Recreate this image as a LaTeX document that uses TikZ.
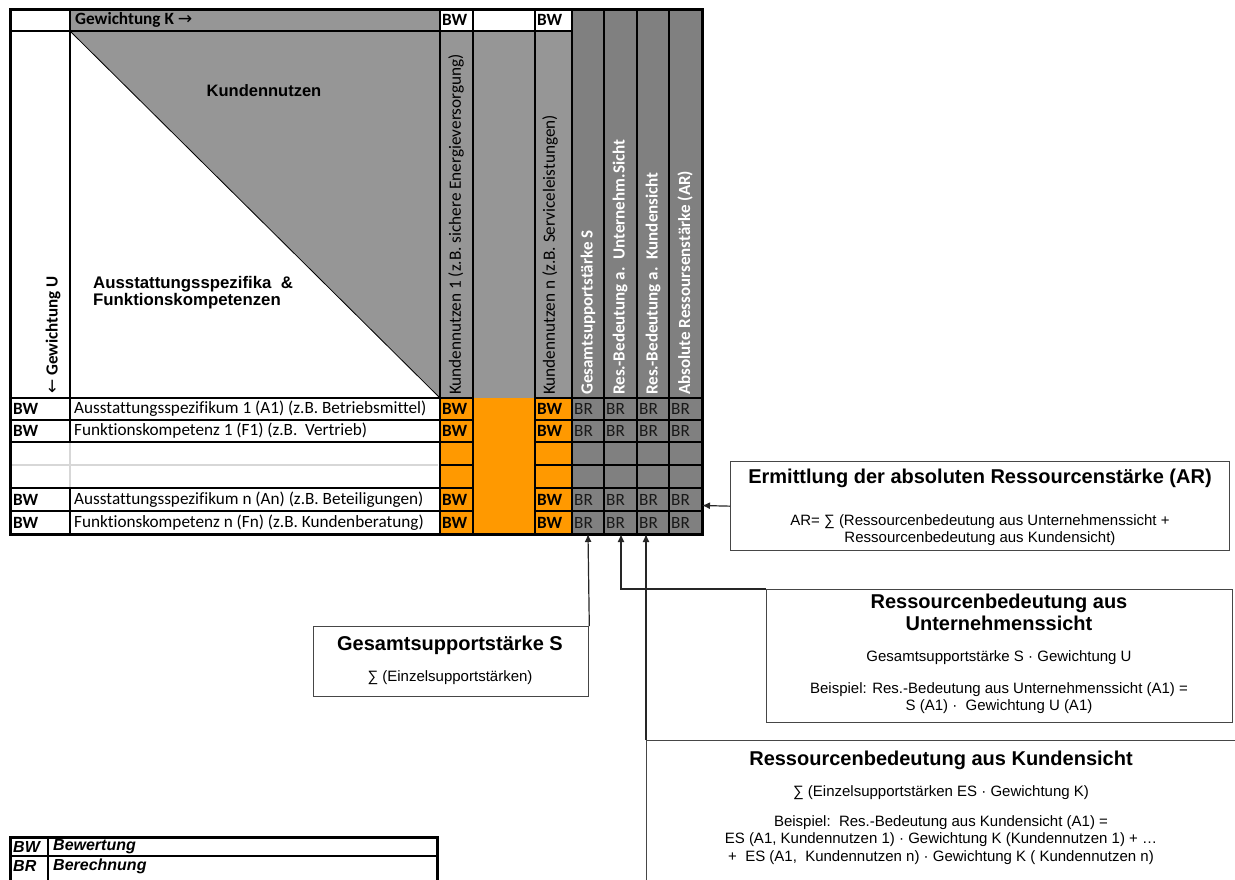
\documentclass[tikz,border=0pt]{standalone}
\usepackage{fontspec}
\setmainfont{Carlito}[Ligatures=NoCommon]
\newfontfamily\arial{Liberation Sans}
\newfontfamily\arrowfont{DejaVu Sans}
\usetikzlibrary{arrows.meta}
\definecolor{lgray}{RGB}{150,150,150}
\definecolor{dgray}{RGB}{128,128,128}
\definecolor{orng}{RGB}{255,153,0}
\definecolor{boxline}{RGB}{70,70,70}
\definecolor{sepgray}{RGB}{215,215,215}

\begin{document}
\begin{tikzpicture}[x=1pt,y=-1pt,
  grid/.style={line width=2pt, black},
  cell/.style={font=\fontsize{17.2}{19}\selectfont, inner sep=0pt},
  bw/.style={cell, font=\fontsize{17.2}{19}\selectfont\bfseries, anchor=west},
  br/.style={cell, text=black!90, anchor=west},
  colhead/.style={cell, rotate=90, anchor=west},
  darkhead/.style={colhead, text=white, font=\fontsize{17}{19}\selectfont\bfseries},
  infobox/.style={draw=boxline, line width=1.3pt, fill=white, inner sep=0pt, anchor=north west},
  ttl/.style={font=\arial\bfseries\fontsize{20}{22}\selectfont, inner sep=0pt, align=center},
  txt/.style={font=\arial\fontsize{15}{17.5}\selectfont, inner sep=0pt, align=center},
  legend/.style={font=\arial\bfseries\itshape\fontsize{16}{18}\selectfont, inner sep=0pt, anchor=west},
  conn/.style={line width=1.2pt, black!85, -{Latex[length=8pt,width=7pt]}},
]
\useasboundingbox (0,0) rectangle (1235,879);
\clip (0,0) rectangle (1235,879);

% ---------- table fills ----------
\fill[lgray] (70,9) rectangle (440,31);
\fill[lgray] (70,31) -- (440,31) -- (440,398) -- cycle;
\fill[lgray] (440,31) rectangle (572,398);
\fill[dgray] (572,9) rectangle (702,534);
\fill[orng] (440,398) rectangle (572,534);

% ---------- table grid ----------
\draw[line width=0.8pt] (70,31) -- (440,398);
\draw[grid] (10,31) -- (572,31);
\foreach \y in {398,420,442,488,511} {
  \draw[grid] (10,\y) -- (473,\y);
  \draw[grid] (535,\y) -- (702,\y);
}
\draw[line width=1.5pt, sepgray] (10,465) -- (438,465);
\draw[grid] (440,465) -- (473,465);
\draw[grid] (535,465) -- (702,465);
\draw[grid] (70,9) -- (70,442);
\draw[line width=1.5pt, sepgray] (70,443) -- (70,487);
\draw[grid] (70,488) -- (70,534);
\foreach \x in {440,473,535,572,604,637,669} {
  \draw[grid] (\x,9) -- (\x,534);
}
\draw[line width=3pt] (10,9) rectangle (702,534);

% ---------- header texts ----------
\node[bw] (gk) at (75,20) {Gewichtung K {\arrowfont\mdseries →}};
\node[bw] (h1) at (442,20) {BW};
\node[bw] (h3) at (537,20) {BW};
\node[font=\arial\bfseries\fontsize{16.5}{18}\selectfont, inner sep=0pt] (kn) at (264,91) {Kundennutzen};
\node[anchor=north west, align=left, inner sep=0pt,
      font=\arial\bfseries\fontsize{16.8}{15}\selectfont] (af) at (93,276)
      {Ausstattungsspezifika\ \ \&\\Funktionskompetenzen};
\node[colhead, font=\fontsize{17}{19}\selectfont\bfseries] (gu) at (53,394) {{\arrowfont\mdseries ←} Gewichtung U};

\node[colhead] (c1) at (456,395) {Kundennutzen 1 (z.B. sichere Energieversorgung)};
\node[colhead] (c3) at (550,395) {Kundennutzen n (z.B. Serviceleistungen)};
\node[darkhead] (c4) at (588,395) {Gesamtsupportstärke S};
\node[darkhead] (c5) at (620,395) {Res.-Bedeutung a.\ \ Unternehm.Sicht};
\node[darkhead] (c6) at (653,395) {Res.-Bedeutung a.\ \ Kundensicht};
\node[darkhead] (c7) at (685,395) {Absolute Ressoursenstärke (AR)};

% ---------- rows ----------
\foreach \i/\y/\t in {1/409/{Ausstattungsspezifikum 1 (A1) (z.B. Betriebsmittel)},
                      2/431/{Funktionskompetenz 1 (F1) (z.B.\ \ Vertrieb)},
                      5/499.5/{Ausstattungsspezifikum n (An) (z.B. Beteiligungen)},
                      6/522.5/{Funktionskompetenz n (Fn) (z.B. Kundenberatung)}} {
  \node[bw] (lbw\i) at (13,\y) {BW};
  \node[cell, anchor=west] (row\i) at (74,\y) {\t};
  \node[bw] (k1bw\i) at (442,\y) {BW};
  \node[bw] (knbw\i) at (537,\y) {BW};
  \node[br] (s\i) at (574,\y) {BR};
  \node[br] (u\i) at (606,\y) {BR};
  \node[br] (k\i) at (639,\y) {BR};
  \node[br] (a\i) at (671,\y) {BR};
}

% ---------- connector targets on the table ----------
\coordinate (tS) at (588,534);
\coordinate (tU) at (621,534);
\coordinate (tK) at (646,534);
\coordinate (tAR) at (702,505.5);

% ---------- explanation boxes ----------
\node[infobox, minimum width=499pt, minimum height=89pt] (arbox) at (730,461) {};
\node[ttl] (art) at (980,478) {Ermittlung der absoluten Ressourcenstärke (AR)};
\node[txt] (arf) at (980,530) {AR= ∑ (Ressourcenbedeutung aus Unternehmenssicht +\\Ressourcenbedeutung aus Kundensicht)};

\node[infobox, minimum width=466pt, minimum height=133pt] (ubox) at (766,589) {};
\node[ttl] (ut) at (999,612) {Ressourcenbedeutung aus\\Unternehmenssicht};
\node[txt] (uf) at (999,658) {Gesamtsupportstärke S · Gewichtung U};
\node[txt] (ub) at (999,698) {Beispiel: Res.-Bedeutung aus Unternehmenssicht (A1) =\\S (A1) ·\ \ Gewichtung U (A1)};

\node[infobox, minimum width=275pt, minimum height=70pt] (sbox) at (313,626) {};
\node[ttl] (st) at (450,645) {Gesamtsupportstärke S};
\node[txt] (sf) at (450,678) {∑ (Einzelsupportstärken)};

\node[infobox, minimum width=620pt, minimum height=170pt] (kbox) at (646,740) {};
\node[ttl] (kt) at (941,760) {Ressourcenbedeutung aus Kundensicht};
\node[txt] (kf) at (941,793) {∑ (Einzelsupportstärken ES · Gewichtung K)};
\node[txt] (kb) at (941,840) {Beispiel:\ \ Res.-Bedeutung aus Kundensicht (A1) =\\ES (A1, Kundennutzen 1) · Gewichtung K (Kundennutzen 1) + …\\+\ \ ES (A1,\ \ Kundennutzen n) · Gewichtung K ( Kundennutzen n)};

% ---------- connectors ----------
\draw[conn] (sbox.north east) -- (tS);
\draw[conn, line width=1.5pt] (ubox.north west) -| (tU);
\draw[conn] (kbox.north west) -- (tK);
\draw[conn] (arbox.west) -- (tAR);

% ---------- legend ----------
\draw[line width=3pt] (10,880) -- (10,837) -- (437,837) -- (437,880);
\draw[line width=2pt] (10,856) -- (437,856);
\draw[line width=1.5pt] (48,837) -- (48,880);
\node[legend] (lbw) at (13,847) {BW};
\node[legend] (lbwt) at (53,847) {Bewertung};
\node[legend] (lbr) at (13,866) {BR};
\node[legend] (lbrt) at (53,866) {Berechnung};
\end{tikzpicture}
\end{document}
